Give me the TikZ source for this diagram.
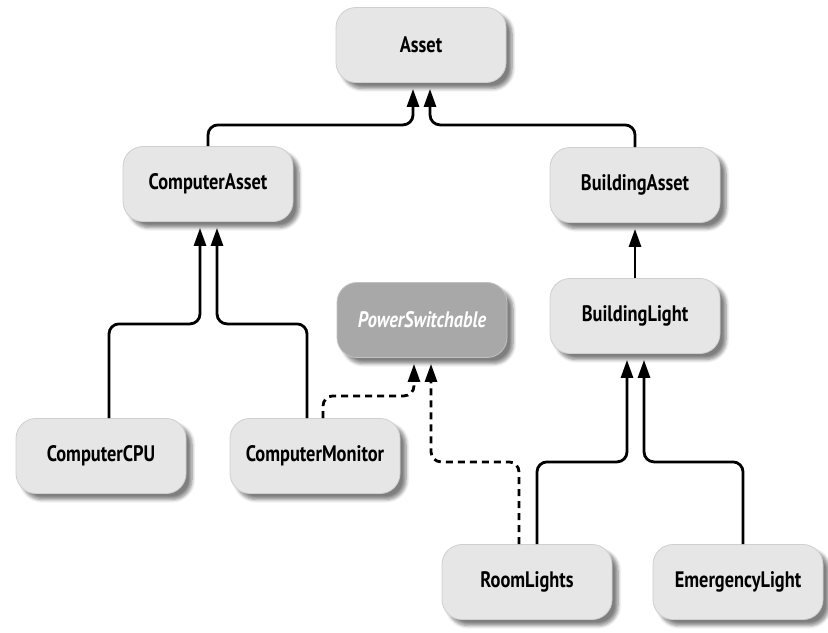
\documentclass[tikz,border=0pt]{standalone}
\usepackage{fontspec}
\newfontfamily\boxfont[FakeStretch=0.82]{PT Sans}
\usetikzlibrary{arrows.meta, calc, shadows.blur}
\definecolor{boxgray}{HTML}{E6E6E6}
\definecolor{boxline}{HTML}{CFCFCF}
\definecolor{ifacegray}{HTML}{A8A8A8}
\tikzset{
	cls/.style={draw=boxline, fill=boxgray, rounded corners=10pt,
		minimum width=85pt, minimum height=37.5pt,
		font=\boxfont\fontsize{11.2}{13}\selectfont\bfseries,
		blur shadow={shadow xshift=3pt, shadow yshift=-3pt, shadow opacity=50, shadow blur steps=6}},
	iface/.style={cls, fill=ifacegray, draw=ifacegray!70!white, text=white,
		font=\boxfont\fontsize{11.2}{13}\selectfont\bfseries\itshape},
	inh/.style={line width=1.4pt, rounded corners=5pt, -{Triangle[length=9pt,width=6pt]}},
	impl/.style={inh, dash pattern=on 3.5pt off 2.5pt}
}
\begin{document}
\begin{tikzpicture}[x=0.5pt, y=-0.5pt]
	\useasboundingbox (0,0) rectangle (828,632);
	\node[cls] (Asset) at (421,45) {Asset};
	\node[cls] (CompAsset) at (208,184) {ComputerAsset};
	\node[cls] (BldAsset) at (635,185) {BuildingAsset};
	\node[iface] (PwrSw) at (422,320) {PowerSwitchable};
	\node[cls] (BldLight) at (635,316) {BuildingLight};
	\node[cls] (CompCPU) at (101,456) {ComputerCPU};
	\node[cls] (CompMon) at (315,456) {ComputerMonitor};
	\node[cls] (RoomLights) at (527,582) {RoomLights};
	\node[cls] (EmLight) at (738,582) {EmergencyLight};
	\draw[inh] (CompAsset.north) |- ($(Asset.south)+(-8,42)$) -- ($(Asset.south)+(-8,6)$);
	\draw[inh] (BldAsset.north) |- ($(Asset.south)+(9,42)$) -- ($(Asset.south)+(9,6)$);
	\draw[inh] ($(CompCPU.north)+(8,0)$) |- ($(CompAsset.south)+(-8,102)$) -- ($(CompAsset.south)+(-8,6)$);
	\draw[inh] ($(CompMon.north)+(-8,0)$) |- ($(CompAsset.south)+(9,102)$) -- ($(CompAsset.south)+(9,6)$);
	\draw[inh] (BldLight.north) -- ($(BldAsset.south)+(0,6)$);
	\draw[inh] ($(RoomLights.north)+(10,0)$) |- ($(BldLight.south)+(-8,108)$) -- ($(BldLight.south)+(-8,6)$);
	\draw[inh] ($(EmLight.north)+(5,0)$) |- ($(BldLight.south)+(9,108)$) -- ($(BldLight.south)+(9,6)$);
	\draw[impl] ($(CompMon.north)+(8,0)$) |- ($(PwrSw.south)+(-8,38)$) -- ($(PwrSw.south)+(-8,6)$);
	\draw[impl] ($(RoomLights.north)+(-8,0)$) |- ($(PwrSw.south)+(9,104)$) -- ($(PwrSw.south)+(9,6)$);
\end{tikzpicture}
\end{document}
